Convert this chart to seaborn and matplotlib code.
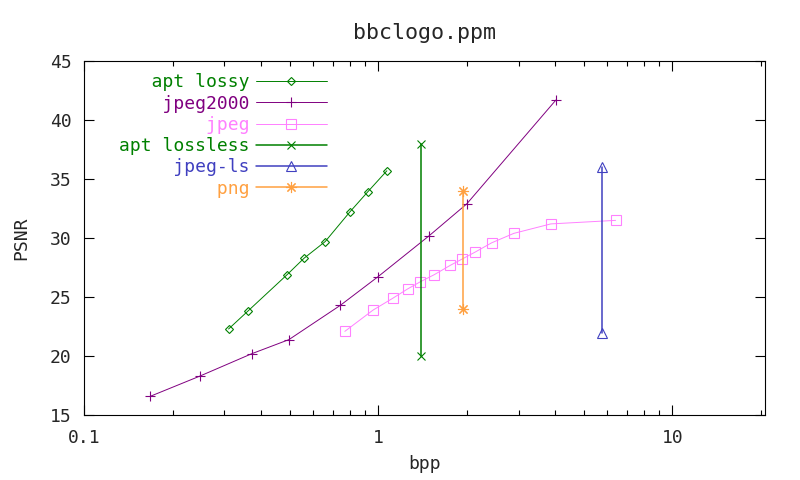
import matplotlib
matplotlib.use("Agg")
import matplotlib.pyplot as plt
import seaborn as sns

# valeurs
apt_lossy_bpp = [0.31, 0.36, 0.49, 0.56, 0.66, 0.80, 0.92, 1.07]
apt_lossy_psnr = [22.3, 23.8, 26.9, 28.3, 29.7, 32.2, 33.9, 35.7]

jpeg2000_bpp = [0.168, 0.247, 0.371, 0.497, 0.743, 0.995, 1.49, 2.0, 4.02]
jpeg2000_psnr = [16.6, 18.3, 20.2, 21.4, 24.3, 26.7, 30.2, 32.9, 41.7]

jpeg_bpp = [0.77, 0.96, 1.12, 1.26, 1.39, 1.55, 1.76, 1.92, 2.13, 2.43, 2.89, 3.86, 6.41]
jpeg_psnr = [22.1, 23.9, 24.9, 25.7, 26.3, 26.9, 27.7, 28.2, 28.8, 29.6, 30.4, 31.2, 31.5]

apt_lossless_bpp = [1.40, 1.40]
apt_lossless_psnr = [20, 38]

jpeg_ls_bpp = [5.75, 5.75]
jpeg_ls_psnr = [22, 36]

png_bpp = [1.94, 1.94]
png_psnr = [24, 34]

labels = ["apt lossy", "jpeg2000", "jpeg", "apt lossless", "jpeg-ls", "png"]

sns.set_style("ticks")
plt.rcParams["font.family"] = ["DejaVu Sans Mono"]
plt.rcParams["font.size"] = 13

fig = plt.figure(figsize=(8, 4.8), dpi=100)
ax = fig.add_axes([0.105, 0.135, 0.851, 0.738])

# padding pour aligner le texte a droite (police monospace)
w = max(len(l) for l in labels)
lab = [l.rjust(w) for l in labels]

series = [
    (apt_lossy_bpp, apt_lossy_psnr, "#008000", "D", 4.2, 0.7),
    (jpeg2000_bpp, jpeg2000_psnr, "#800080", "+", 7, 0.7),
    (jpeg_bpp, jpeg_psnr, "#ff80ff", "s", 6.5, 0.7),
    (apt_lossless_bpp, apt_lossless_psnr, "#008000", "x", 6, 1.1),
    (jpeg_ls_bpp, jpeg_ls_psnr, "#4040c0", "^", 6.5, 1.1),
    (png_bpp, png_psnr, "#ffa040", (8, 2, 0), 8, 1.1),
]

for (x, y, c, m, ms, lw), l in zip(series, lab):
    sns.lineplot(x=x, y=y, ax=ax, color=c, marker=m, markersize=ms,
                 markerfacecolor="none", markeredgecolor=c, markeredgewidth=0.8,
                 linewidth=lw, label=l, estimator=None, sort=False)

ax.set_xscale("log")
ax.set_xlim(0.1, 20.6)
ax.set_ylim(15, 45)
ax.set_yticks(range(15, 50, 5))
ax.set_xticks([0.1, 1, 10])
ax.set_xticklabels(["0.1", "1", "10"])

ax.tick_params(which="both", direction="in", top=True, right=True, color="black")
ax.tick_params(which="major", length=7, width=0.8, pad=10)
ax.tick_params(which="minor", length=3.5, width=0.8)
ax.tick_params(axis="y", pad=9)
for s in ax.spines.values():
    s.set_linewidth(0.8)
    s.set_color("black")

ax.set_title("bbclogo.ppm", pad=16)
ax.set_xlabel("bpp", labelpad=6)
ax.set_ylabel("PSNR", labelpad=14)

leg = ax.legend(loc="upper right", frameon=False, markerfirst=False,
                handlelength=3.95, labelspacing=0.18, borderaxespad=0,
                borderpad=0, bbox_to_anchor=(0.357, 0.965), handletextpad=0.35)
for t, (x, y, c, m, ms, lw) in zip(leg.get_texts(), series):
    t.set_color(c)

plt.savefig("out.png", dpi=100)
plt.close()
